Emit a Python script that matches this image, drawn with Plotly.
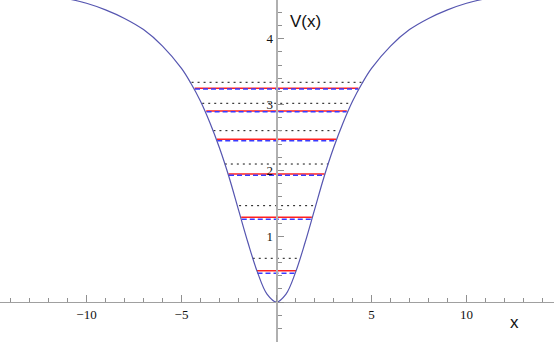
import plotly.graph_objects as go

# ---- data ----
curve_x = [-11.0, -10.0, -9.0, -8.0, -7.0, -6.0, -5.0, -4.5, -4.0, -3.5, -3.0, -2.5, -2.0, -1.5, -1.0, -0.5,
           0.0, 0.5, 1.0, 1.5, 2.0, 2.5, 3.0, 3.5, 4.0, 4.5, 5.0, 6.0, 7.0, 8.0, 9.0, 10.0, 11.0]
curve_v = [4.61, 4.54, 4.44, 4.31, 4.14, 3.89, 3.55, 3.32, 3.05, 2.72, 2.34, 1.90, 1.40, 0.90, 0.45, 0.12,
           0.00, 0.12, 0.45, 0.90, 1.40, 1.90, 2.34, 2.72, 3.05, 3.32, 3.55, 3.89, 4.14, 4.31, 4.44, 4.54, 4.61]

# energy levels (value, half-width of the segment)
red_levels = [0.476, 1.287, 1.945, 2.472, 2.903, 3.248]
red_half = [1.03, 1.86, 2.53, 3.14, 3.70, 4.31]

blue_levels = [0.436, 1.257, 1.925, 2.452, 2.890, 3.237]
blue_half = [1.00, 1.83, 2.50, 3.12, 3.68, 4.29]

dot_levels = [0.664, 1.464, 2.097, 2.604, 3.020, 3.339]
dot_half = [1.25, 1.97, 2.72, 3.32, 3.91, 4.47]

x_tickvals = [-15, -10, -5, 0, 5, 10, 15]
x_ticktext = ["", "\u221210", "\u22125", "", "5", "10", ""]
y_tickvals = [0, 1, 2, 3, 4]
y_ticktext = ["", "1", "2", "3", "4"]

X_RANGE = [-14.553, 14.605]
Y_RANGE = [-0.608, 4.590]


def segments(levels, halves):
    xs, ys = [], []
    for e, w in zip(levels, halves):
        xs += [-w, w, None]
        ys += [e, e, None]
    return xs, ys


fig = go.Figure()

dx, dy = segments(dot_levels, dot_half)
fig.add_trace(go.Scatter(x=dx, y=dy, mode="lines",
                         line=dict(color="#111111", width=1, dash="2px,4px")))
rx, ry = segments(red_levels, red_half)
fig.add_trace(go.Scatter(x=rx, y=ry, mode="lines",
                         line=dict(color="#ff2020", width=1.5)))
bx, by = segments(blue_levels, blue_half)
fig.add_trace(go.Scatter(x=bx, y=by, mode="lines",
                         line=dict(color="#3a3aff", width=1.5, dash="5px,3px")))
fig.add_trace(go.Scatter(x=curve_x, y=curve_v, mode="lines",
                         line=dict(color="#5555b0", width=1.2, shape="spline", smoothing=1.0)))

x_pos = (0 - X_RANGE[0]) / (X_RANGE[1] - X_RANGE[0])
y_pos = (0 - Y_RANGE[0]) / (Y_RANGE[1] - Y_RANGE[0])

tick_font = dict(family="Liberation Serif", size=13, color="#111111")

fig.update_layout(
    width=554, height=342,
    margin=dict(l=0, r=0, t=0, b=0),
    paper_bgcolor="white", plot_bgcolor="white",
    showlegend=False,
    xaxis=dict(range=X_RANGE, anchor="free", position=y_pos,
               showgrid=False, zeroline=False,
               showline=True, linecolor="#a0a0a0", linewidth=1,
               tickmode="array", tickvals=x_tickvals, ticktext=x_ticktext,
               ticks="inside", ticklen=7, tickwidth=1, tickcolor="#909090",
               minor=dict(tickmode="linear", tick0=0, dtick=1, ticks="inside",
                          ticklen=4, tickwidth=1, tickcolor="#909090"),
               tickfont=tick_font, fixedrange=True),
    yaxis=dict(range=Y_RANGE, anchor="free", position=x_pos,
               showgrid=False, zeroline=False,
               showline=True, linecolor="#b0b0b0", linewidth=2,
               tickmode="array", tickvals=y_tickvals, ticktext=y_ticktext,
               ticks="inside", ticklen=6, tickwidth=1, tickcolor="#909090",
               minor=dict(tickmode="linear", tick0=0, dtick=0.2, ticks="inside",
                          ticklen=4, tickwidth=1, tickcolor="#909090"),
               tickfont=tick_font, fixedrange=True),
    annotations=[
        dict(text="V(x)", xref="paper", yref="paper", x=288 / 554, y=1 - 21.5 / 342,
             xanchor="left", yanchor="middle", showarrow=False,
             font=dict(family="Liberation Sans", size=17, color="#111111")),
        dict(text="x", xref="paper", yref="paper", x=514.7 / 554, y=1 - 322.5 / 342,
             xanchor="center", yanchor="middle", showarrow=False,
             font=dict(family="Liberation Sans", size=17, color="#111111")),
    ],
)

fig.write_html("out.html", config=dict(displayModeBar=False),
               post_script="document.body.style.margin='0px';document.body.style.padding='0px';")
